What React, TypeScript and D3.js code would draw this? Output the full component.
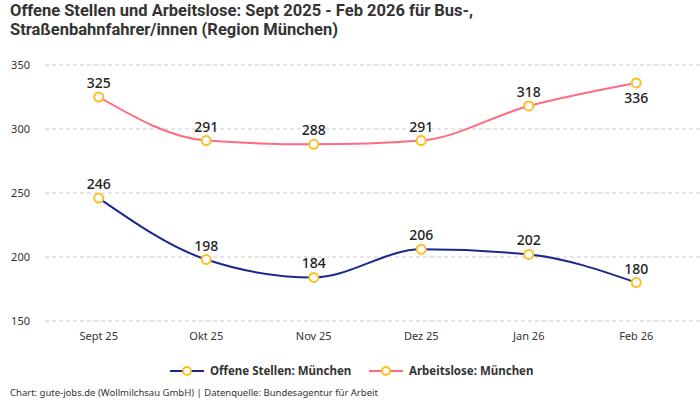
import React, { useEffect, useRef } from 'react';
import * as d3 from 'd3';

const months = ['Sept 25', 'Okt 25', 'Nov 25', 'Dez 25', 'Jan 26', 'Feb 26'];
const offeneStellen = [246, 198, 184, 206, 202, 180];
const arbeitslose = [325, 291, 288, 291, 318, 336];
const yTicks = [150, 200, 250, 300, 350];
const titleLines = [
  'Offene Stellen und Arbeitslose: Sept 2025 - Feb 2026 für Bus-,',
  'Straßenbahnfahrer/innen (Region München)',
];

const seriesList = [
  { name: 'Offene Stellen: München', values: offeneStellen, color: '#1b2a8a', below: [] as number[] },
  { name: 'Arbeitslose: München', values: arbeitslose, color: '#ff6b81', below: [5] },
];

const FONT = '"Noto Sans", "Open Sans", sans-serif';
const TITLE_FONT = 'Roboto, "Noto Sans", sans-serif';

export default function App() {
  const svgRef = useRef<SVGSVGElement>(null);

  useEffect(() => {
    if (!svgRef.current) return;
    const svg = d3.select(svgRef.current);
    svg.selectAll('*').remove();

    const width = 700;
    const height = 400;
    const margin = { top: 65, right: 10, bottom: 79, left: 45 };

    const x = d3.scalePoint<string>()
      .domain(months)
      .range([margin.left, width - margin.right])
      .padding(0.5);

    const y = d3.scaleLinear()
      .domain([150, 350])
      .range([height - margin.bottom, margin.top]);

    // title, one text per line
    svg.append('g')
      .selectAll('text')
      .data(titleLines)
      .join('text')
      .attr('x', 10)
      .attr('y', (_, i) => 15.5 + i * 19.5)
      .attr('font-family', TITLE_FONT)
      .attr('font-size', 16.5)
      .attr('font-weight', 700)
      .attr('fill', '#333')
      .text(d => d);

    // grid
    svg.append('g')
      .selectAll('line')
      .data(yTicks)
      .join('line')
      .attr('x1', margin.left)
      .attr('x2', width)
      .attr('y1', d => y(d))
      .attr('y2', d => y(d))
      .attr('stroke', '#cccccc')
      .attr('stroke-dasharray', '4,3');

    svg.append('g')
      .selectAll('text')
      .data(yTicks)
      .join('text')
      .attr('x', 30)
      .attr('y', d => y(d) + 4)
      .attr('text-anchor', 'end')
      .attr('font-family', FONT)
      .attr('font-size', 11)
      .attr('fill', '#333')
      .text(d => d);

    // x labels
    svg.append('g')
      .selectAll('text')
      .data(months)
      .join('text')
      .attr('x', d => x(d) || 0)
      .attr('y', 340)
      .attr('text-anchor', 'middle')
      .attr('font-family', FONT)
      .attr('font-size', 11)
      .attr('fill', '#333')
      .text(d => d);

    const line = d3.line<number>()
      .x((_, i) => x(months[i]) || 0)
      .y(d => y(d))
      .curve(d3.curveMonotoneX);

    seriesList.forEach(s => {
      svg.append('path')
        .datum(s.values)
        .attr('fill', 'none')
        .attr('stroke', s.color)
        .attr('stroke-width', 2)
        .attr('d', line);

      svg.append('g')
        .selectAll('circle')
        .data(s.values)
        .join('circle')
        .attr('cx', (_, i) => x(months[i]) || 0)
        .attr('cy', d => y(d))
        .attr('r', 4.5)
        .attr('fill', '#fff')
        .attr('stroke', '#fbbf24')
        .attr('stroke-width', 2);

      svg.append('g')
        .selectAll('text')
        .data(s.values)
        .join('text')
        .attr('x', (_, i) => x(months[i]) || 0)
        .attr('y', (d, i) => s.below.includes(i) ? y(d) + 20 : y(d) - 9)
        .attr('text-anchor', 'middle')
        .attr('font-family', FONT)
        .attr('font-size', 14)
        .attr('font-weight', 500)
        .attr('fill', '#222')
        .text(d => d);
    });

    // legend
    const legendY = 371;
    const legendItems = [
      { x: 170, s: seriesList[0] },
      { x: 369, s: seriesList[1] },
    ];
    legendItems.forEach(({ x: lx, s }) => {
      const g = svg.append('g').attr('transform', `translate(${lx},${legendY})`);
      g.append('line').attr('x1', 0).attr('x2', 34).attr('y1', 0).attr('y2', 0)
        .attr('stroke', s.color).attr('stroke-width', 2);
      g.append('circle').attr('cx', 17).attr('cy', 0).attr('r', 4)
        .attr('fill', '#fff').attr('stroke', '#fbbf24').attr('stroke-width', 2);
      g.append('text').attr('x', 40).attr('y', 4)
        .attr('font-family', FONT).attr('font-size', 11.5).attr('font-weight', 700)
        .attr('fill', '#333').text(s.name);
    });

    svg.append('text')
      .attr('x', 10)
      .attr('y', 396)
      .attr('font-family', FONT)
      .attr('font-size', 9.5)
      .attr('fill', '#333')
      .text('Chart: gute-jobs.de (Wollmilchsau GmbH) | Datenquelle: Bundesagentur für Arbeit');
  }, []);

  return (
    <div style={{ position: 'fixed', left: 0, top: 0, background: '#fff' }}>
      <svg ref={svgRef} width={700} height={400} style={{ display: 'block' }} />
    </div>
  );
}
